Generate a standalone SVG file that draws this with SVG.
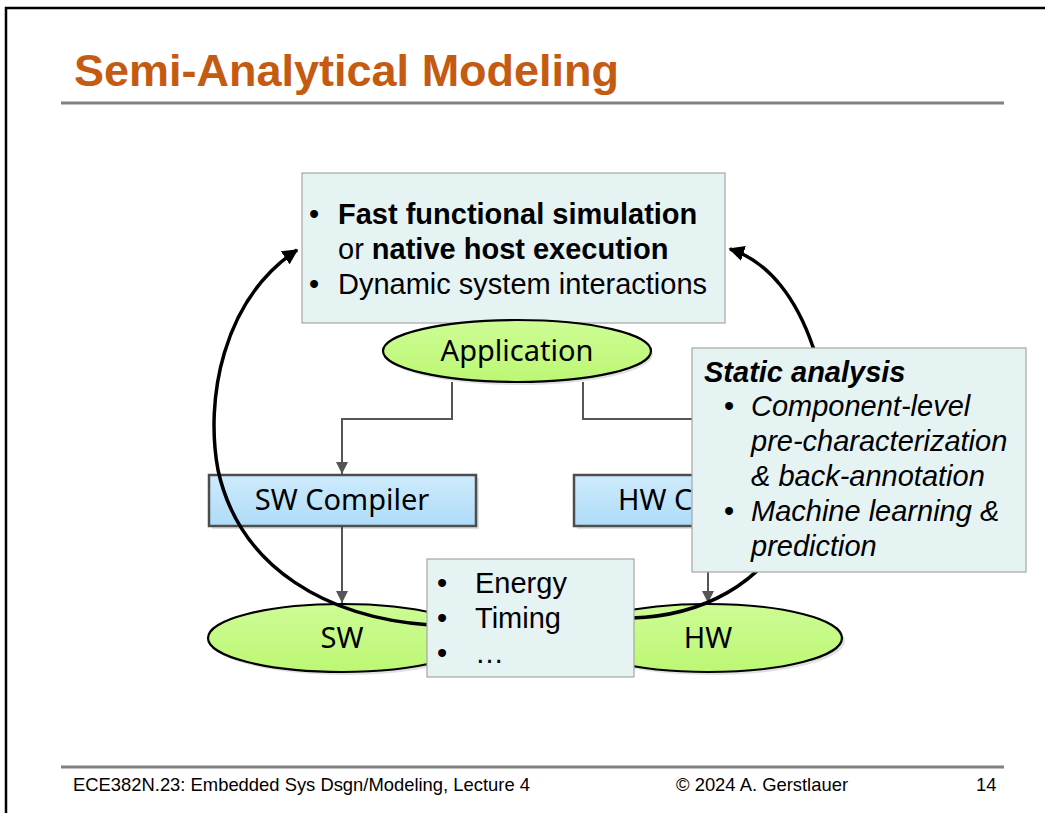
<svg xmlns="http://www.w3.org/2000/svg" width="1045" height="813" viewBox="0 0 1045 813">
<defs>
<style>
.title{font-family:"Liberation Sans",Arial,sans-serif;font-weight:bold;font-size:45px;fill:#C55A11}
.body{font-family:"Liberation Sans",Arial,sans-serif;font-size:29px;fill:#000}
.seg{font-family:"Noto Sans","Open Sans",sans-serif;font-size:29px;fill:#000}
.foot{font-family:"Liberation Sans",Arial,sans-serif;font-size:18.4px;fill:#000}
.note{fill:#E6F3F3;stroke:#A6A6A6;stroke-width:1.2}
.ell{fill:url(#gGreen);stroke:#000;stroke-width:2.2}
.comp{fill:url(#gBlue);stroke:#4D4D4D;stroke-width:2.5}
.flow{fill:none;stroke:#555;stroke-width:2}
.loop{fill:none;stroke:#000;stroke-width:3.5}
.shadow{fill:#000;opacity:0.12}
</style>
<linearGradient id="gGreen" x1="0" y1="0" x2="0" y2="1">
<stop offset="0" stop-color="#CDFC95"/><stop offset="1" stop-color="#BDF774"/>
</linearGradient>
<linearGradient id="gBlue" x1="0" y1="0" x2="0" y2="1">
<stop offset="0" stop-color="#CFEBFC"/><stop offset="1" stop-color="#ADDCF8"/>
</linearGradient>
<clipPath id="hwClip"><rect x="560" y="460" width="132" height="80"/></clipPath>
<marker id="aGray" viewBox="0 0 10 10" refX="10" refY="5" markerWidth="6" markerHeight="6" orient="auto" markerUnits="strokeWidth">
<path d="M0,0 L10,5 L0,10 z" fill="#555"/>
</marker>
<marker id="aBlack" viewBox="0 0 10 10" refX="9" refY="5" markerWidth="4.5" markerHeight="4.5" orient="auto" markerUnits="strokeWidth">
<path d="M0,0 L10,5 L0,10 z" fill="#000"/>
</marker>
</defs>

<g id="frame">
<line x1="5" y1="8" x2="1045" y2="8" stroke="#000" stroke-width="2.5"/>
<line x1="6" y1="7" x2="6" y2="813" stroke="#000" stroke-width="2.5"/>
<line x1="61" y1="103" x2="1004" y2="103" stroke="#808080" stroke-width="3"/>
<line x1="61" y1="767" x2="1004" y2="767" stroke="#808080" stroke-width="3"/>
</g>

<g id="title"><text class="title" x="74" y="86">Semi-Analytical Modeling</text></g>

<g id="footer">
<text class="foot" x="73" y="791">ECE382N.23: Embedded Sys Dsgn/Modeling, Lecture 4</text>
<text class="foot" x="676" y="791">© 2024 A. Gerstlauer</text>
<text class="foot" x="976" y="791">14</text>
</g>

<g id="sim-box">
<rect class="note" x="302" y="173" width="423" height="150"/>
<text class="body" x="309" y="224">•</text>
<text class="body" x="338" y="224" font-weight="bold">Fast functional simulation</text>
<text class="body" x="338" y="259">or <tspan font-weight="bold">native host execution</tspan></text>
<text class="body" x="309" y="294">•</text>
<text class="body" x="338" y="294">Dynamic system interactions</text>
</g>

<g id="application">
<ellipse class="shadow" cx="519" cy="354" rx="134" ry="31"/>
<ellipse class="ell" cx="517" cy="351" rx="134" ry="31"/>
<text class="seg" x="517" y="361" text-anchor="middle">Application</text>
</g>

<g id="connectors">
<polyline class="flow" points="452,382 452,419 342,419 342,474" marker-end="url(#aGray)"/>
<polyline class="flow" points="583,382 583,419 708,419 708,474" marker-end="url(#aGray)"/>
<line class="flow" x1="342" y1="526" x2="342" y2="603" marker-end="url(#aGray)"/>
<line class="flow" x1="708" y1="526" x2="708" y2="603" marker-end="url(#aGray)"/>
</g>

<g id="sw-compiler">
<rect class="shadow" x="212" y="478" width="267" height="51"/>
<rect class="comp" x="209" y="475" width="267" height="51"/>
<text class="seg" x="342" y="510" text-anchor="middle">SW Compiler</text>
</g>

<g id="hw-compiler">
<rect class="shadow" x="577" y="478" width="267" height="51"/>
<rect class="comp" x="574" y="475" width="267" height="51"/>
<text class="seg" x="708" y="510" text-anchor="middle" clip-path="url(#hwClip)">HW Compiler</text>
</g>

<g id="sw">
<ellipse class="shadow" cx="345" cy="641" rx="134" ry="34"/>
<ellipse class="ell" cx="342" cy="638" rx="134" ry="34"/>
<text class="seg" x="342" y="648" text-anchor="middle">SW</text>
</g>

<g id="hw">
<ellipse class="shadow" cx="711" cy="641" rx="134" ry="34"/>
<ellipse class="ell" cx="708" cy="638" rx="134" ry="34"/>
<text class="seg" x="708" y="648" text-anchor="middle">HW</text>
</g>

<g id="loops">
<path class="loop" d="M 430 625 C 330 618, 240 570, 218 470 C 205 400, 222 300, 297 250" marker-end="url(#aBlack)"/>
<path class="loop" d="M 632 618 C 700 616, 765 585, 792 520 C 825 450, 830 390, 813 347 C 797 300, 770 262, 730 249" marker-end="url(#aBlack)"/>
</g>

<g id="metrics-box">
<rect class="note" x="427" y="559" width="207" height="118"/>
<text class="body" x="437" y="593">•</text>
<text class="body" x="475" y="593">Energy</text>
<text class="body" x="437" y="628">•</text>
<text class="body" x="475" y="628">Timing</text>
<text class="body" x="437" y="663">•</text>
<text class="body" x="475" y="663">…</text>
</g>

<g id="static-box">
<rect class="note" x="692" y="348" width="334" height="224"/>
<text class="body" x="704" y="382" font-weight="bold" font-style="italic">Static analysis</text>
<text class="body" x="724" y="416">•</text>
<text class="body" x="751" y="416" font-style="italic">Component-level</text>
<text class="body" x="751" y="451" font-style="italic">pre-characterization</text>
<text class="body" x="751" y="486" font-style="italic">&amp; back-annotation</text>
<text class="body" x="724" y="521">•</text>
<text class="body" x="751" y="521" font-style="italic">Machine learning &amp;</text>
<text class="body" x="751" y="556" font-style="italic">prediction</text>
</g>
</svg>
